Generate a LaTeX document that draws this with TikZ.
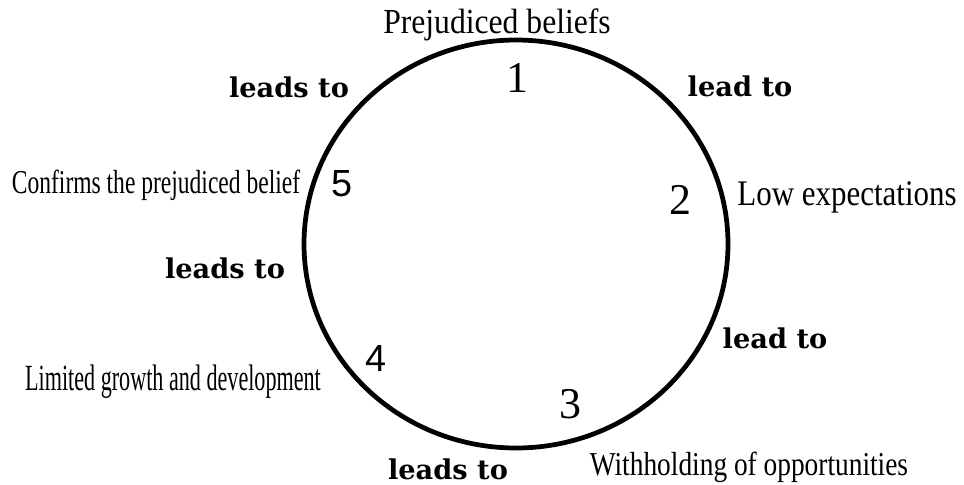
\documentclass[tikz,border=0pt]{standalone}
\usepackage{fontspec}
\usepackage{graphicx}
\setmainfont{Liberation Serif}
\newfontfamily\leadfont{DejaVu Serif}
\newfontfamily\digitsans{Liberation Sans}

\begin{document}
\begin{tikzpicture}[
  % --- one unit = one pixel of the reference, y grows downwards
  x=0.02cm, y=-0.02cm,
  stage/.style={inner sep=0pt, anchor=base, font=\fontsize{19}{19}\selectfont},
  arrowtext/.style={inner sep=0pt, anchor=base, font=\leadfont\bfseries\fontsize{15.5}{15.5}\selectfont},
  stepnum/.style={inner sep=0pt, font=\fontsize{25}{25}\selectfont},
  stepnumsans/.style={inner sep=0pt, font=\digitsans\fontsize{21.5}{21.5}\selectfont},
]
\useasboundingbox (0,0) rectangle (964,484);

%========================
% the cycle
%========================
\coordinate (cycle) at (516,244);
\draw[line width=2.7pt] (cycle) ellipse [x radius=212, y radius=204];

% numbers on the inside
\node[stepnum]     (n1) at (517,78)  {1};
\node[stepnum]     (n2) at (680,200) {2};
\node[stepnum]     (n3) at (570,404) {3};
\node[stepnumsans] (n4) at (376,358) {4};
\node[stepnumsans] (n5) at (342,184) {5};

%========================
% stages round the outside
%========================
\node[stage, font=\fontsize{20}{20}\selectfont] (prejudice) at (497,33) {\scalebox{0.9}[1]{Prejudiced beliefs}};
\node[stage, font=\fontsize{20.5}{20.5}\selectfont] (expect) at (847,205) {\scalebox{0.86}[1]{Low expectations}};
\node[stage] (withhold) at (749,475) {\scalebox{0.82}[1]{Withholding of opportunities}};
\node[stage, font=\fontsize{21}{21}\selectfont] (limited) at (173,390) {\scalebox{0.6}[1]{Limited growth and development}};
\node[stage] (confirm) at (156,193) {\scalebox{0.705}[1]{Confirms the prejudiced belief}};

% links between the stages
\node[arrowtext] (l12) at (740,96)  {lead to};
\node[arrowtext] (l23) at (775,348) {lead to};
\node[arrowtext] (l34) at (448,479) {leads to};
\node[arrowtext] (l45) at (225,278) {leads to};
\node[arrowtext] (l51) at (289,97)  {leads to};

\end{tikzpicture}
\end{document}
